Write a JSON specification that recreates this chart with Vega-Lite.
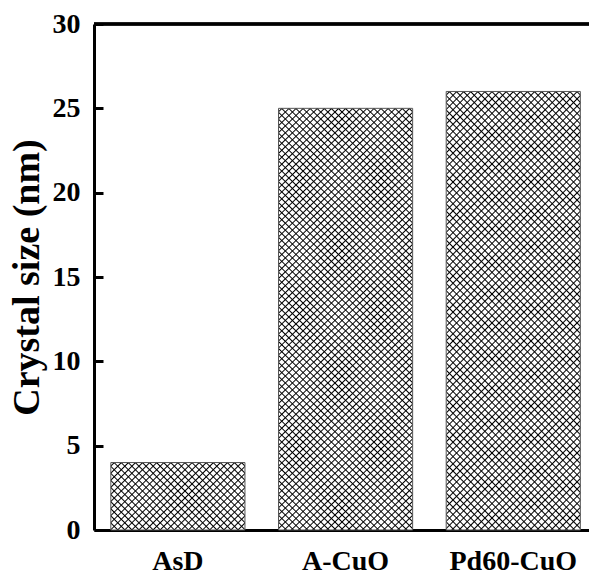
{
"$schema":"https://vega.github.io/schema/vega-lite/v6.json",
"width":495,"height":506,
"autosize":{"type":"none"},
"padding":{"left":94,"top":24,"right":0,"bottom":44},
"background":"white",
"data":{"values":[{"sample":"AsD","size":4},{"sample":"A-CuO","size":25},{"sample":"Pd60-CuO","size":26}]},
"layer":[
{"mark":{"type":"bar","strokeWidth":0},
"encoding":{
"x":{"field":"sample","type":"nominal","sort":null,"title":null,"scale":{"paddingInner":0.2,"paddingOuter":0.076,"align":0.66}},
"y":{"field":"size","type":"quantitative","title":"Crystal size (nm)","scale":{"domain":[0,30],"nice":false},"axis":{"values":[0,5,10,15,20,25,30]}},
"fill":{"condition":{"test":"datum.sample === 'AsD'","value":{"gradient":"linear","x1":0,"y1":0,"x2":1.1995,"y2":0.6035,"stops":[
{"offset":0.0104,"color":"#fff"},{"offset":0.0174,"color":"#000"},{"offset":0.0244,"color":"#fff"},
{"offset":0.0455,"color":"#fff"},{"offset":0.0525,"color":"#000"},{"offset":0.0595,"color":"#fff"},
{"offset":0.0806,"color":"#fff"},{"offset":0.0876,"color":"#000"},{"offset":0.0946,"color":"#fff"},
{"offset":0.1157,"color":"#fff"},{"offset":0.1227,"color":"#000"},{"offset":0.1297,"color":"#fff"},
{"offset":0.1508,"color":"#fff"},{"offset":0.1578,"color":"#000"},{"offset":0.1648,"color":"#fff"},
{"offset":0.1859,"color":"#fff"},{"offset":0.1929,"color":"#000"},{"offset":0.1999,"color":"#fff"},
{"offset":0.221,"color":"#fff"},{"offset":0.228,"color":"#000"},{"offset":0.235,"color":"#fff"},
{"offset":0.2561,"color":"#fff"},{"offset":0.2631,"color":"#000"},{"offset":0.2701,"color":"#fff"},
{"offset":0.2912,"color":"#fff"},{"offset":0.2982,"color":"#000"},{"offset":0.3052,"color":"#fff"},
{"offset":0.3263,"color":"#fff"},{"offset":0.3333,"color":"#000"},{"offset":0.3403,"color":"#fff"},
{"offset":0.3614,"color":"#fff"},{"offset":0.3684,"color":"#000"},{"offset":0.3754,"color":"#fff"},
{"offset":0.3965,"color":"#fff"},{"offset":0.4035,"color":"#000"},{"offset":0.4105,"color":"#fff"},
{"offset":0.4316,"color":"#fff"},{"offset":0.4386,"color":"#000"},{"offset":0.4456,"color":"#fff"},
{"offset":0.4667,"color":"#fff"},{"offset":0.4737,"color":"#000"},{"offset":0.4807,"color":"#fff"},
{"offset":0.5018,"color":"#fff"},{"offset":0.5088,"color":"#000"},{"offset":0.5158,"color":"#fff"},
{"offset":0.5369,"color":"#fff"},{"offset":0.5439,"color":"#000"},{"offset":0.5509,"color":"#fff"},
{"offset":0.572,"color":"#fff"},{"offset":0.579,"color":"#000"},{"offset":0.586,"color":"#fff"},
{"offset":0.6071,"color":"#fff"},{"offset":0.6141,"color":"#000"},{"offset":0.6211,"color":"#fff"},
{"offset":0.6422,"color":"#fff"},{"offset":0.6492,"color":"#000"},{"offset":0.6562,"color":"#fff"},
{"offset":0.6773,"color":"#fff"},{"offset":0.6843,"color":"#000"},{"offset":0.6913,"color":"#fff"},
{"offset":0.7124,"color":"#fff"},{"offset":0.7194,"color":"#000"},{"offset":0.7264,"color":"#fff"},
{"offset":0.7475,"color":"#fff"},{"offset":0.7545,"color":"#000"},{"offset":0.7615,"color":"#fff"},
{"offset":0.7826,"color":"#fff"},{"offset":0.7896,"color":"#000"},{"offset":0.7966,"color":"#fff"},
{"offset":0.8177,"color":"#fff"},{"offset":0.8247,"color":"#000"},{"offset":0.8317,"color":"#fff"},
{"offset":0.8528,"color":"#fff"},{"offset":0.8598,"color":"#000"},{"offset":0.8668,"color":"#fff"},
{"offset":0.8879,"color":"#fff"},{"offset":0.8949,"color":"#000"},{"offset":0.9019,"color":"#fff"},
{"offset":0.923,"color":"#fff"},{"offset":0.93,"color":"#000"},{"offset":0.937,"color":"#fff"},
{"offset":0.9581,"color":"#fff"},{"offset":0.9651,"color":"#000"},{"offset":0.9721,"color":"#fff"}
]}},
"value":{"gradient":"linear","x1":0,"y1":0,"x2":0.3728,"y2":1.1956,"stops":[
{"offset":0.0037,"color":"#fff"},{"offset":0.0062,"color":"#000"},{"offset":0.0087,"color":"#fff"},
{"offset":0.01626,"color":"#fff"},{"offset":0.01876,"color":"#000"},{"offset":0.02126,"color":"#fff"},
{"offset":0.02882,"color":"#fff"},{"offset":0.03132,"color":"#000"},{"offset":0.03382,"color":"#fff"},
{"offset":0.04138,"color":"#fff"},{"offset":0.04388,"color":"#000"},{"offset":0.04638,"color":"#fff"},
{"offset":0.05394,"color":"#fff"},{"offset":0.05644,"color":"#000"},{"offset":0.05894,"color":"#fff"},
{"offset":0.0665,"color":"#fff"},{"offset":0.069,"color":"#000"},{"offset":0.0715,"color":"#fff"},
{"offset":0.07906,"color":"#fff"},{"offset":0.08156,"color":"#000"},{"offset":0.08406,"color":"#fff"},
{"offset":0.09162,"color":"#fff"},{"offset":0.09412,"color":"#000"},{"offset":0.09662,"color":"#fff"},
{"offset":0.10418,"color":"#fff"},{"offset":0.10668,"color":"#000"},{"offset":0.10918,"color":"#fff"},
{"offset":0.11674,"color":"#fff"},{"offset":0.11924,"color":"#000"},{"offset":0.12174,"color":"#fff"},
{"offset":0.1293,"color":"#fff"},{"offset":0.1318,"color":"#000"},{"offset":0.1343,"color":"#fff"},
{"offset":0.14186,"color":"#fff"},{"offset":0.14436,"color":"#000"},{"offset":0.14686,"color":"#fff"},
{"offset":0.15442,"color":"#fff"},{"offset":0.15692,"color":"#000"},{"offset":0.15942,"color":"#fff"},
{"offset":0.16698,"color":"#fff"},{"offset":0.16948,"color":"#000"},{"offset":0.17198,"color":"#fff"},
{"offset":0.17954,"color":"#fff"},{"offset":0.18204,"color":"#000"},{"offset":0.18454,"color":"#fff"},
{"offset":0.1921,"color":"#fff"},{"offset":0.1946,"color":"#000"},{"offset":0.1971,"color":"#fff"},
{"offset":0.20466,"color":"#fff"},{"offset":0.20716,"color":"#000"},{"offset":0.20966,"color":"#fff"},
{"offset":0.21722,"color":"#fff"},{"offset":0.21972,"color":"#000"},{"offset":0.22222,"color":"#fff"},
{"offset":0.22978,"color":"#fff"},{"offset":0.23228,"color":"#000"},{"offset":0.23478,"color":"#fff"},
{"offset":0.24234,"color":"#fff"},{"offset":0.24484,"color":"#000"},{"offset":0.24734,"color":"#fff"},
{"offset":0.2549,"color":"#fff"},{"offset":0.2574,"color":"#000"},{"offset":0.2599,"color":"#fff"},
{"offset":0.26746,"color":"#fff"},{"offset":0.26996,"color":"#000"},{"offset":0.27246,"color":"#fff"},
{"offset":0.28002,"color":"#fff"},{"offset":0.28252,"color":"#000"},{"offset":0.28502,"color":"#fff"},
{"offset":0.29258,"color":"#fff"},{"offset":0.29508,"color":"#000"},{"offset":0.29758,"color":"#fff"},
{"offset":0.30514,"color":"#fff"},{"offset":0.30764,"color":"#000"},{"offset":0.31014,"color":"#fff"},
{"offset":0.3177,"color":"#fff"},{"offset":0.3202,"color":"#000"},{"offset":0.3227,"color":"#fff"},
{"offset":0.33026,"color":"#fff"},{"offset":0.33276,"color":"#000"},{"offset":0.33526,"color":"#fff"},
{"offset":0.34282,"color":"#fff"},{"offset":0.34532,"color":"#000"},{"offset":0.34782,"color":"#fff"},
{"offset":0.35538,"color":"#fff"},{"offset":0.35788,"color":"#000"},{"offset":0.36038,"color":"#fff"},
{"offset":0.36794,"color":"#fff"},{"offset":0.37044,"color":"#000"},{"offset":0.37294,"color":"#fff"},
{"offset":0.3805,"color":"#fff"},{"offset":0.383,"color":"#000"},{"offset":0.3855,"color":"#fff"},
{"offset":0.39306,"color":"#fff"},{"offset":0.39556,"color":"#000"},{"offset":0.39806,"color":"#fff"},
{"offset":0.40562,"color":"#fff"},{"offset":0.40812,"color":"#000"},{"offset":0.41062,"color":"#fff"},
{"offset":0.41818,"color":"#fff"},{"offset":0.42068,"color":"#000"},{"offset":0.42318,"color":"#fff"},
{"offset":0.43074,"color":"#fff"},{"offset":0.43324,"color":"#000"},{"offset":0.43574,"color":"#fff"},
{"offset":0.4433,"color":"#fff"},{"offset":0.4458,"color":"#000"},{"offset":0.4483,"color":"#fff"},
{"offset":0.45586,"color":"#fff"},{"offset":0.45836,"color":"#000"},{"offset":0.46086,"color":"#fff"},
{"offset":0.46842,"color":"#fff"},{"offset":0.47092,"color":"#000"},{"offset":0.47342,"color":"#fff"},
{"offset":0.48098,"color":"#fff"},{"offset":0.48348,"color":"#000"},{"offset":0.48598,"color":"#fff"},
{"offset":0.49354,"color":"#fff"},{"offset":0.49604,"color":"#000"},{"offset":0.49854,"color":"#fff"},
{"offset":0.5061,"color":"#fff"},{"offset":0.5086,"color":"#000"},{"offset":0.5111,"color":"#fff"},
{"offset":0.51866,"color":"#fff"},{"offset":0.52116,"color":"#000"},{"offset":0.52366,"color":"#fff"},
{"offset":0.53122,"color":"#fff"},{"offset":0.53372,"color":"#000"},{"offset":0.53622,"color":"#fff"},
{"offset":0.54378,"color":"#fff"},{"offset":0.54628,"color":"#000"},{"offset":0.54878,"color":"#fff"},
{"offset":0.55634,"color":"#fff"},{"offset":0.55884,"color":"#000"},{"offset":0.56134,"color":"#fff"},
{"offset":0.5689,"color":"#fff"},{"offset":0.5714,"color":"#000"},{"offset":0.5739,"color":"#fff"},
{"offset":0.58146,"color":"#fff"},{"offset":0.58396,"color":"#000"},{"offset":0.58646,"color":"#fff"},
{"offset":0.59402,"color":"#fff"},{"offset":0.59652,"color":"#000"},{"offset":0.59902,"color":"#fff"},
{"offset":0.60658,"color":"#fff"},{"offset":0.60908,"color":"#000"},{"offset":0.61158,"color":"#fff"},
{"offset":0.61914,"color":"#fff"},{"offset":0.62164,"color":"#000"},{"offset":0.62414,"color":"#fff"},
{"offset":0.6317,"color":"#fff"},{"offset":0.6342,"color":"#000"},{"offset":0.6367,"color":"#fff"},
{"offset":0.64426,"color":"#fff"},{"offset":0.64676,"color":"#000"},{"offset":0.64926,"color":"#fff"},
{"offset":0.65682,"color":"#fff"},{"offset":0.65932,"color":"#000"},{"offset":0.66182,"color":"#fff"},
{"offset":0.66938,"color":"#fff"},{"offset":0.67188,"color":"#000"},{"offset":0.67438,"color":"#fff"},
{"offset":0.68194,"color":"#fff"},{"offset":0.68444,"color":"#000"},{"offset":0.68694,"color":"#fff"},
{"offset":0.6945,"color":"#fff"},{"offset":0.697,"color":"#000"},{"offset":0.6995,"color":"#fff"},
{"offset":0.70706,"color":"#fff"},{"offset":0.70956,"color":"#000"},{"offset":0.71206,"color":"#fff"},
{"offset":0.71962,"color":"#fff"},{"offset":0.72212,"color":"#000"},{"offset":0.72462,"color":"#fff"},
{"offset":0.73218,"color":"#fff"},{"offset":0.73468,"color":"#000"},{"offset":0.73718,"color":"#fff"},
{"offset":0.74474,"color":"#fff"},{"offset":0.74724,"color":"#000"},{"offset":0.74974,"color":"#fff"},
{"offset":0.7573,"color":"#fff"},{"offset":0.7598,"color":"#000"},{"offset":0.7623,"color":"#fff"},
{"offset":0.76986,"color":"#fff"},{"offset":0.77236,"color":"#000"},{"offset":0.77486,"color":"#fff"},
{"offset":0.78242,"color":"#fff"},{"offset":0.78492,"color":"#000"},{"offset":0.78742,"color":"#fff"},
{"offset":0.79498,"color":"#fff"},{"offset":0.79748,"color":"#000"},{"offset":0.79998,"color":"#fff"},
{"offset":0.80754,"color":"#fff"},{"offset":0.81004,"color":"#000"},{"offset":0.81254,"color":"#fff"},
{"offset":0.8201,"color":"#fff"},{"offset":0.8226,"color":"#000"},{"offset":0.8251,"color":"#fff"},
{"offset":0.83266,"color":"#fff"},{"offset":0.83516,"color":"#000"},{"offset":0.83766,"color":"#fff"},
{"offset":0.84522,"color":"#fff"},{"offset":0.84772,"color":"#000"},{"offset":0.85022,"color":"#fff"},
{"offset":0.85778,"color":"#fff"},{"offset":0.86028,"color":"#000"},{"offset":0.86278,"color":"#fff"},
{"offset":0.87034,"color":"#fff"},{"offset":0.87284,"color":"#000"},{"offset":0.87534,"color":"#fff"},
{"offset":0.8829,"color":"#fff"},{"offset":0.8854,"color":"#000"},{"offset":0.8879,"color":"#fff"},
{"offset":0.89546,"color":"#fff"},{"offset":0.89796,"color":"#000"},{"offset":0.90046,"color":"#fff"},
{"offset":0.90802,"color":"#fff"},{"offset":0.91052,"color":"#000"},{"offset":0.91302,"color":"#fff"},
{"offset":0.92058,"color":"#fff"},{"offset":0.92308,"color":"#000"},{"offset":0.92558,"color":"#fff"},
{"offset":0.93314,"color":"#fff"},{"offset":0.93564,"color":"#000"},{"offset":0.93814,"color":"#fff"},
{"offset":0.9457,"color":"#fff"},{"offset":0.9482,"color":"#000"},{"offset":0.9507,"color":"#fff"},
{"offset":0.95826,"color":"#fff"},{"offset":0.96076,"color":"#000"},{"offset":0.96326,"color":"#fff"},
{"offset":0.97082,"color":"#fff"},{"offset":0.97332,"color":"#000"},{"offset":0.97582,"color":"#fff"},
{"offset":0.98338,"color":"#fff"},{"offset":0.98588,"color":"#000"},{"offset":0.98838,"color":"#fff"}
]}}
}},
{"mark":{"type":"bar","stroke":"#555","strokeWidth":1},
"encoding":{
"x":{"field":"sample","type":"nominal","sort":null,"title":null},
"y":{"field":"size","type":"quantitative","title":"Crystal size (nm)","axis":{"values":[0,5,10,15,20,25,30]}},
"fill":{"condition":{"test":"datum.sample === 'AsD'","value":{"gradient":"linear","x1":1,"y1":0,"x2":-0.1995,"y2":0.6035,"stops":[
{"offset":0.0104,"color":"#0000"},{"offset":0.0174,"color":"#000"},{"offset":0.0244,"color":"#0000"},
{"offset":0.0455,"color":"#0000"},{"offset":0.0525,"color":"#000"},{"offset":0.0595,"color":"#0000"},
{"offset":0.0806,"color":"#0000"},{"offset":0.0876,"color":"#000"},{"offset":0.0946,"color":"#0000"},
{"offset":0.1157,"color":"#0000"},{"offset":0.1227,"color":"#000"},{"offset":0.1297,"color":"#0000"},
{"offset":0.1508,"color":"#0000"},{"offset":0.1578,"color":"#000"},{"offset":0.1648,"color":"#0000"},
{"offset":0.1859,"color":"#0000"},{"offset":0.1929,"color":"#000"},{"offset":0.1999,"color":"#0000"},
{"offset":0.221,"color":"#0000"},{"offset":0.228,"color":"#000"},{"offset":0.235,"color":"#0000"},
{"offset":0.2561,"color":"#0000"},{"offset":0.2631,"color":"#000"},{"offset":0.2701,"color":"#0000"},
{"offset":0.2912,"color":"#0000"},{"offset":0.2982,"color":"#000"},{"offset":0.3052,"color":"#0000"},
{"offset":0.3263,"color":"#0000"},{"offset":0.3333,"color":"#000"},{"offset":0.3403,"color":"#0000"},
{"offset":0.3614,"color":"#0000"},{"offset":0.3684,"color":"#000"},{"offset":0.3754,"color":"#0000"},
{"offset":0.3965,"color":"#0000"},{"offset":0.4035,"color":"#000"},{"offset":0.4105,"color":"#0000"},
{"offset":0.4316,"color":"#0000"},{"offset":0.4386,"color":"#000"},{"offset":0.4456,"color":"#0000"},
{"offset":0.4667,"color":"#0000"},{"offset":0.4737,"color":"#000"},{"offset":0.4807,"color":"#0000"},
{"offset":0.5018,"color":"#0000"},{"offset":0.5088,"color":"#000"},{"offset":0.5158,"color":"#0000"},
{"offset":0.5369,"color":"#0000"},{"offset":0.5439,"color":"#000"},{"offset":0.5509,"color":"#0000"},
{"offset":0.572,"color":"#0000"},{"offset":0.579,"color":"#000"},{"offset":0.586,"color":"#0000"},
{"offset":0.6071,"color":"#0000"},{"offset":0.6141,"color":"#000"},{"offset":0.6211,"color":"#0000"},
{"offset":0.6422,"color":"#0000"},{"offset":0.6492,"color":"#000"},{"offset":0.6562,"color":"#0000"},
{"offset":0.6773,"color":"#0000"},{"offset":0.6843,"color":"#000"},{"offset":0.6913,"color":"#0000"},
{"offset":0.7124,"color":"#0000"},{"offset":0.7194,"color":"#000"},{"offset":0.7264,"color":"#0000"},
{"offset":0.7475,"color":"#0000"},{"offset":0.7545,"color":"#000"},{"offset":0.7615,"color":"#0000"},
{"offset":0.7826,"color":"#0000"},{"offset":0.7896,"color":"#000"},{"offset":0.7966,"color":"#0000"},
{"offset":0.8177,"color":"#0000"},{"offset":0.8247,"color":"#000"},{"offset":0.8317,"color":"#0000"},
{"offset":0.8528,"color":"#0000"},{"offset":0.8598,"color":"#000"},{"offset":0.8668,"color":"#0000"},
{"offset":0.8879,"color":"#0000"},{"offset":0.8949,"color":"#000"},{"offset":0.9019,"color":"#0000"},
{"offset":0.923,"color":"#0000"},{"offset":0.93,"color":"#000"},{"offset":0.937,"color":"#0000"},
{"offset":0.9581,"color":"#0000"},{"offset":0.9651,"color":"#000"},{"offset":0.9721,"color":"#0000"}
]}},
"value":{"gradient":"linear","x1":1,"y1":0,"x2":0.6272,"y2":1.1956,"stops":[
{"offset":0.0037,"color":"#0000"},{"offset":0.0062,"color":"#000"},{"offset":0.0087,"color":"#0000"},
{"offset":0.01626,"color":"#0000"},{"offset":0.01876,"color":"#000"},{"offset":0.02126,"color":"#0000"},
{"offset":0.02882,"color":"#0000"},{"offset":0.03132,"color":"#000"},{"offset":0.03382,"color":"#0000"},
{"offset":0.04138,"color":"#0000"},{"offset":0.04388,"color":"#000"},{"offset":0.04638,"color":"#0000"},
{"offset":0.05394,"color":"#0000"},{"offset":0.05644,"color":"#000"},{"offset":0.05894,"color":"#0000"},
{"offset":0.0665,"color":"#0000"},{"offset":0.069,"color":"#000"},{"offset":0.0715,"color":"#0000"},
{"offset":0.07906,"color":"#0000"},{"offset":0.08156,"color":"#000"},{"offset":0.08406,"color":"#0000"},
{"offset":0.09162,"color":"#0000"},{"offset":0.09412,"color":"#000"},{"offset":0.09662,"color":"#0000"},
{"offset":0.10418,"color":"#0000"},{"offset":0.10668,"color":"#000"},{"offset":0.10918,"color":"#0000"},
{"offset":0.11674,"color":"#0000"},{"offset":0.11924,"color":"#000"},{"offset":0.12174,"color":"#0000"},
{"offset":0.1293,"color":"#0000"},{"offset":0.1318,"color":"#000"},{"offset":0.1343,"color":"#0000"},
{"offset":0.14186,"color":"#0000"},{"offset":0.14436,"color":"#000"},{"offset":0.14686,"color":"#0000"},
{"offset":0.15442,"color":"#0000"},{"offset":0.15692,"color":"#000"},{"offset":0.15942,"color":"#0000"},
{"offset":0.16698,"color":"#0000"},{"offset":0.16948,"color":"#000"},{"offset":0.17198,"color":"#0000"},
{"offset":0.17954,"color":"#0000"},{"offset":0.18204,"color":"#000"},{"offset":0.18454,"color":"#0000"},
{"offset":0.1921,"color":"#0000"},{"offset":0.1946,"color":"#000"},{"offset":0.1971,"color":"#0000"},
{"offset":0.20466,"color":"#0000"},{"offset":0.20716,"color":"#000"},{"offset":0.20966,"color":"#0000"},
{"offset":0.21722,"color":"#0000"},{"offset":0.21972,"color":"#000"},{"offset":0.22222,"color":"#0000"},
{"offset":0.22978,"color":"#0000"},{"offset":0.23228,"color":"#000"},{"offset":0.23478,"color":"#0000"},
{"offset":0.24234,"color":"#0000"},{"offset":0.24484,"color":"#000"},{"offset":0.24734,"color":"#0000"},
{"offset":0.2549,"color":"#0000"},{"offset":0.2574,"color":"#000"},{"offset":0.2599,"color":"#0000"},
{"offset":0.26746,"color":"#0000"},{"offset":0.26996,"color":"#000"},{"offset":0.27246,"color":"#0000"},
{"offset":0.28002,"color":"#0000"},{"offset":0.28252,"color":"#000"},{"offset":0.28502,"color":"#0000"},
{"offset":0.29258,"color":"#0000"},{"offset":0.29508,"color":"#000"},{"offset":0.29758,"color":"#0000"},
{"offset":0.30514,"color":"#0000"},{"offset":0.30764,"color":"#000"},{"offset":0.31014,"color":"#0000"},
{"offset":0.3177,"color":"#0000"},{"offset":0.3202,"color":"#000"},{"offset":0.3227,"color":"#0000"},
{"offset":0.33026,"color":"#0000"},{"offset":0.33276,"color":"#000"},{"offset":0.33526,"color":"#0000"},
{"offset":0.34282,"color":"#0000"},{"offset":0.34532,"color":"#000"},{"offset":0.34782,"color":"#0000"},
{"offset":0.35538,"color":"#0000"},{"offset":0.35788,"color":"#000"},{"offset":0.36038,"color":"#0000"},
{"offset":0.36794,"color":"#0000"},{"offset":0.37044,"color":"#000"},{"offset":0.37294,"color":"#0000"},
{"offset":0.3805,"color":"#0000"},{"offset":0.383,"color":"#000"},{"offset":0.3855,"color":"#0000"},
{"offset":0.39306,"color":"#0000"},{"offset":0.39556,"color":"#000"},{"offset":0.39806,"color":"#0000"},
{"offset":0.40562,"color":"#0000"},{"offset":0.40812,"color":"#000"},{"offset":0.41062,"color":"#0000"},
{"offset":0.41818,"color":"#0000"},{"offset":0.42068,"color":"#000"},{"offset":0.42318,"color":"#0000"},
{"offset":0.43074,"color":"#0000"},{"offset":0.43324,"color":"#000"},{"offset":0.43574,"color":"#0000"},
{"offset":0.4433,"color":"#0000"},{"offset":0.4458,"color":"#000"},{"offset":0.4483,"color":"#0000"},
{"offset":0.45586,"color":"#0000"},{"offset":0.45836,"color":"#000"},{"offset":0.46086,"color":"#0000"},
{"offset":0.46842,"color":"#0000"},{"offset":0.47092,"color":"#000"},{"offset":0.47342,"color":"#0000"},
{"offset":0.48098,"color":"#0000"},{"offset":0.48348,"color":"#000"},{"offset":0.48598,"color":"#0000"},
{"offset":0.49354,"color":"#0000"},{"offset":0.49604,"color":"#000"},{"offset":0.49854,"color":"#0000"},
{"offset":0.5061,"color":"#0000"},{"offset":0.5086,"color":"#000"},{"offset":0.5111,"color":"#0000"},
{"offset":0.51866,"color":"#0000"},{"offset":0.52116,"color":"#000"},{"offset":0.52366,"color":"#0000"},
{"offset":0.53122,"color":"#0000"},{"offset":0.53372,"color":"#000"},{"offset":0.53622,"color":"#0000"},
{"offset":0.54378,"color":"#0000"},{"offset":0.54628,"color":"#000"},{"offset":0.54878,"color":"#0000"},
{"offset":0.55634,"color":"#0000"},{"offset":0.55884,"color":"#000"},{"offset":0.56134,"color":"#0000"},
{"offset":0.5689,"color":"#0000"},{"offset":0.5714,"color":"#000"},{"offset":0.5739,"color":"#0000"},
{"offset":0.58146,"color":"#0000"},{"offset":0.58396,"color":"#000"},{"offset":0.58646,"color":"#0000"},
{"offset":0.59402,"color":"#0000"},{"offset":0.59652,"color":"#000"},{"offset":0.59902,"color":"#0000"},
{"offset":0.60658,"color":"#0000"},{"offset":0.60908,"color":"#000"},{"offset":0.61158,"color":"#0000"},
{"offset":0.61914,"color":"#0000"},{"offset":0.62164,"color":"#000"},{"offset":0.62414,"color":"#0000"},
{"offset":0.6317,"color":"#0000"},{"offset":0.6342,"color":"#000"},{"offset":0.6367,"color":"#0000"},
{"offset":0.64426,"color":"#0000"},{"offset":0.64676,"color":"#000"},{"offset":0.64926,"color":"#0000"},
{"offset":0.65682,"color":"#0000"},{"offset":0.65932,"color":"#000"},{"offset":0.66182,"color":"#0000"},
{"offset":0.66938,"color":"#0000"},{"offset":0.67188,"color":"#000"},{"offset":0.67438,"color":"#0000"},
{"offset":0.68194,"color":"#0000"},{"offset":0.68444,"color":"#000"},{"offset":0.68694,"color":"#0000"},
{"offset":0.6945,"color":"#0000"},{"offset":0.697,"color":"#000"},{"offset":0.6995,"color":"#0000"},
{"offset":0.70706,"color":"#0000"},{"offset":0.70956,"color":"#000"},{"offset":0.71206,"color":"#0000"},
{"offset":0.71962,"color":"#0000"},{"offset":0.72212,"color":"#000"},{"offset":0.72462,"color":"#0000"},
{"offset":0.73218,"color":"#0000"},{"offset":0.73468,"color":"#000"},{"offset":0.73718,"color":"#0000"},
{"offset":0.74474,"color":"#0000"},{"offset":0.74724,"color":"#000"},{"offset":0.74974,"color":"#0000"},
{"offset":0.7573,"color":"#0000"},{"offset":0.7598,"color":"#000"},{"offset":0.7623,"color":"#0000"},
{"offset":0.76986,"color":"#0000"},{"offset":0.77236,"color":"#000"},{"offset":0.77486,"color":"#0000"},
{"offset":0.78242,"color":"#0000"},{"offset":0.78492,"color":"#000"},{"offset":0.78742,"color":"#0000"},
{"offset":0.79498,"color":"#0000"},{"offset":0.79748,"color":"#000"},{"offset":0.79998,"color":"#0000"},
{"offset":0.80754,"color":"#0000"},{"offset":0.81004,"color":"#000"},{"offset":0.81254,"color":"#0000"},
{"offset":0.8201,"color":"#0000"},{"offset":0.8226,"color":"#000"},{"offset":0.8251,"color":"#0000"},
{"offset":0.83266,"color":"#0000"},{"offset":0.83516,"color":"#000"},{"offset":0.83766,"color":"#0000"},
{"offset":0.84522,"color":"#0000"},{"offset":0.84772,"color":"#000"},{"offset":0.85022,"color":"#0000"},
{"offset":0.85778,"color":"#0000"},{"offset":0.86028,"color":"#000"},{"offset":0.86278,"color":"#0000"},
{"offset":0.87034,"color":"#0000"},{"offset":0.87284,"color":"#000"},{"offset":0.87534,"color":"#0000"},
{"offset":0.8829,"color":"#0000"},{"offset":0.8854,"color":"#000"},{"offset":0.8879,"color":"#0000"},
{"offset":0.89546,"color":"#0000"},{"offset":0.89796,"color":"#000"},{"offset":0.90046,"color":"#0000"},
{"offset":0.90802,"color":"#0000"},{"offset":0.91052,"color":"#000"},{"offset":0.91302,"color":"#0000"},
{"offset":0.92058,"color":"#0000"},{"offset":0.92308,"color":"#000"},{"offset":0.92558,"color":"#0000"},
{"offset":0.93314,"color":"#0000"},{"offset":0.93564,"color":"#000"},{"offset":0.93814,"color":"#0000"},
{"offset":0.9457,"color":"#0000"},{"offset":0.9482,"color":"#000"},{"offset":0.9507,"color":"#0000"},
{"offset":0.95826,"color":"#0000"},{"offset":0.96076,"color":"#000"},{"offset":0.96326,"color":"#0000"},
{"offset":0.97082,"color":"#0000"},{"offset":0.97332,"color":"#000"},{"offset":0.97582,"color":"#0000"},
{"offset":0.98338,"color":"#0000"},{"offset":0.98588,"color":"#000"},{"offset":0.98838,"color":"#0000"}
]}}
}},
{"mark":{"type":"rule","color":"#000","strokeWidth":3},"encoding":{"y":{"datum":30}}}
],
"config":{
"view":{"stroke":null},
"axis":{"labelFont":"Liberation Serif","labelFontWeight":"bold","labelFontSize":28,"labelColor":"#000","domainColor":"#000","domainWidth":3,"tickColor":"#000","tickWidth":3,"grid":false,"titleFont":"Liberation Serif","titleFontWeight":"bold","titleColor":"#000"},
"axisY":{"tickSize":-9,"labelPadding":23,"titleFontSize":38,"titleX":-56,"titleY":253,"titleAngle":270,"titleAlign":"center","titleBaseline":"alphabetic"},
"axisX":{"ticks":false,"labelPadding":39,"labelAngle":0,"labelBaseline":"alphabetic"}
}
}
